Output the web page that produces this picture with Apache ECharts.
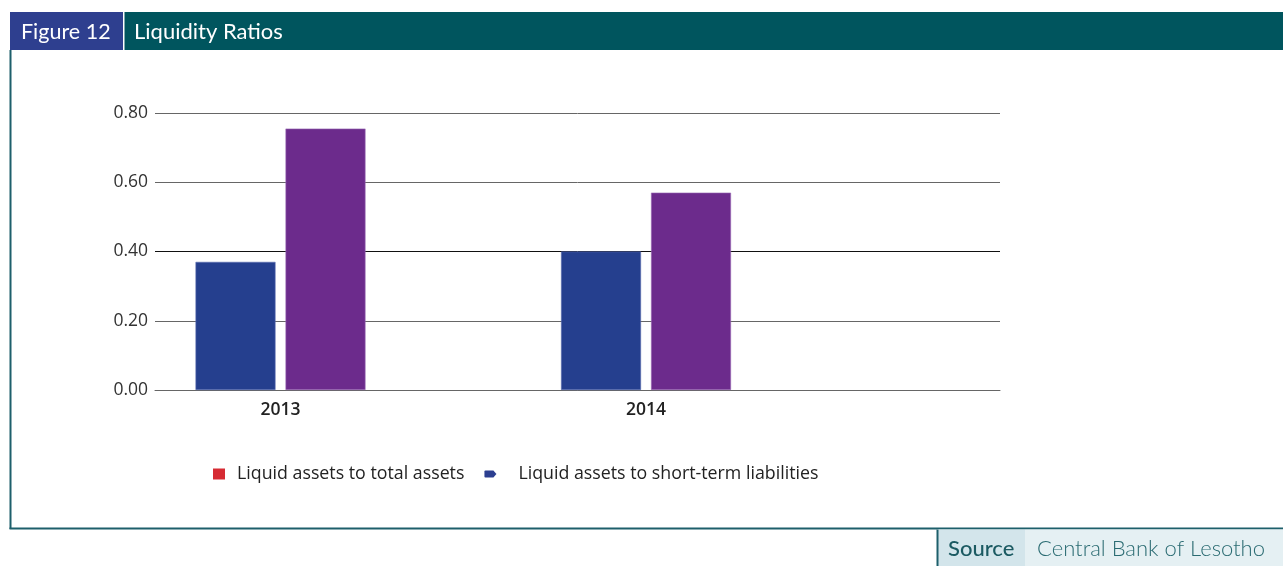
<!DOCTYPE html>
<html>
<head>
<meta charset="utf-8">
<script src="https://cdn.jsdelivr.net/npm/echarts@6/dist/echarts.min.js"></script>
<style>
html,body{margin:0;padding:0;background:#fff;}
#chart{width:1283px;height:566px;}
</style>
</head>
<body>
<div id="chart"></div>
<script>
const years = [2013, 2014];
const seriesNames = ['Liquid assets to total assets', 'Liquid assets to short-term liabilities'];
const liquidToTotal = [0.37, 0.40];
const liquidToShortTerm = [0.755, 0.57];
const yTicks = [0, 0.2, 0.4, 0.6, 0.8];

const chart = echarts.init(document.getElementById('chart'), null, {renderer: 'canvas'});
const FONT = '"Open Sans", "Noto Sans", sans-serif';
const HFONT = 'Lato, "Open Sans", sans-serif';

const option = {
  animation: false,
  backgroundColor: '#fff',
  grid: {left: 155, right: 283, top: 113, bottom: 176, containLabel: false},
  xAxis: {
    type: 'value',
    min: 2012.6566,
    max: 2014.9685,
    axisLine: {show: true, onZero: false, lineStyle: {color: '#666', width: 1}},
    axisTick: {show: false},
    splitLine: {show: false},
    axisLabel: {
      customValues: years,
      formatter: v => String(Math.round(v)),
      color: '#222', fontSize: 17.5, fontWeight: 600, fontFamily: FONT, margin: 11
    }
  },
  yAxis: {
    type: 'value',
    min: 0, max: 0.8, interval: 0.2,
    axisLine: {show: false},
    axisTick: {show: false},
    axisLabel: {formatter: v => v.toFixed(2), color: '#333', fontSize: 17.5, fontFamily: FONT, margin: 7},
    splitLine: {show: true, lineStyle: {color: ['#666', '#666', '#111', '#666', '#666'], width: 1}}
  },
  legend: {
    left: 208, top: 460,
    itemWidth: 12, itemHeight: 11,
    itemGap: 20,
    textStyle: {color: '#222', fontSize: 17.8, fontFamily: FONT},
    data: [
      {name: seriesNames[0], icon: 'rect', itemStyle: {color: '#d62b33', borderWidth: 0}, textStyle: {padding: [0, 0, 0, 7]}},
      {name: seriesNames[1], icon: 'path://M1,0 L9,0 L12,3.5 L9,7 L1,7 Q0,7 0,6 L0,1 Q0,0 1,0 Z', itemStyle: {color: '#2c3f90', borderWidth: 0}, textStyle: {padding: [0, 0, 0, 17]}}
    ]
  },
  series: [
    {
      name: seriesNames[0], type: 'bar', barWidth: 80, barGap: '12.5%',
      itemStyle: {color: '#253f8e', borderColor: '#5a6db0', borderWidth: 0.6},
      data: years.map((y, i) => [y, liquidToTotal[i]])
    },
    {
      name: seriesNames[1], type: 'bar', barWidth: 80, barGap: '12.5%',
      itemStyle: {color: '#6c2b8c', borderColor: '#9a6bb5', borderWidth: 0.6},
      data: years.map((y, i) => [y, liquidToShortTerm[i]])
    }
  ],
  graphic: [
    {type: 'rect', shape: {x: 10, y: 12, width: 1273, height: 38}, style: {fill: '#00555e'}, z: 10},
    {type: 'rect', shape: {x: 10, y: 12, width: 113, height: 38}, style: {fill: '#2e3f8f'}, z: 11},
    {type: 'rect', shape: {x: 123, y: 12, width: 1.5, height: 38}, style: {fill: '#ffffff'}, z: 12},
    {type: 'text', x: 21, y: 32, style: {text: 'Figure 12', fill: '#fff', fontSize: 21.5, fontFamily: HFONT, verticalAlign: 'middle'}, z: 13},
    {type: 'text', x: 134, y: 32, style: {text: 'Liquidity Ratios', fill: '#fff', fontSize: 22, fontFamily: HFONT, verticalAlign: 'middle'}, z: 13},
    {type: 'rect', shape: {x: 9.5, y: 50, width: 2, height: 479}, style: {fill: '#1d5f6b'}, z: 10},
    {type: 'rect', shape: {x: 9.5, y: 527.5, width: 1274, height: 2}, style: {fill: '#1d5f6b'}, z: 10},
    {type: 'rect', shape: {x: 937, y: 529.5, width: 88, height: 37}, style: {fill: '#d3e5eb'}, z: 10},
    {type: 'rect', shape: {x: 1025, y: 529.5, width: 258, height: 37}, style: {fill: '#e5f0f3'}, z: 10},
    {type: 'rect', shape: {x: 936.5, y: 529.5, width: 2, height: 37}, style: {fill: '#1d5f6b'}, z: 11},
    {type: 'text', x: 948, y: 549, style: {text: 'Source', fill: '#1b5a62', fontSize: 22, fontWeight: 500, fontFamily: HFONT, verticalAlign: 'middle'}, z: 12},
    {type: 'text', x: 1037, y: 549, style: {text: 'Central Bank of Lesotho', fill: '#2a6b72', fontSize: 22, fontWeight: 300, fontFamily: HFONT, verticalAlign: 'middle'}, z: 12}
  ]
};
chart.setOption(option);
</script>
</body>
</html>
